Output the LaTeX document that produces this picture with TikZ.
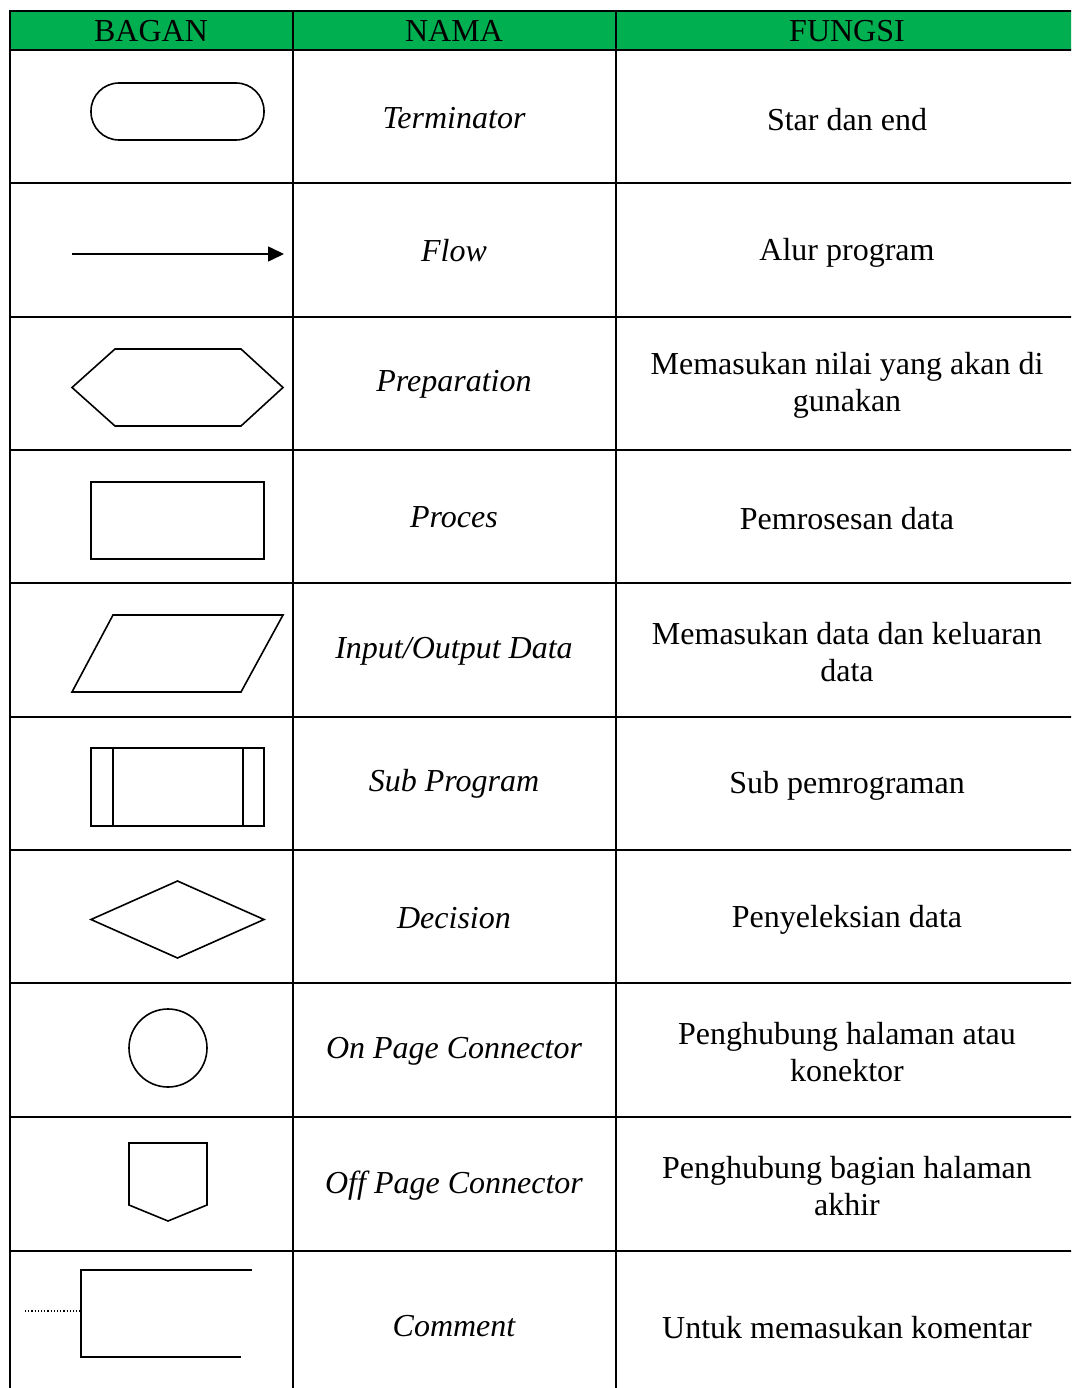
\documentclass[tikz,border=0pt]{standalone}
\usepackage{fontspec}
\setmainfont{Liberation Serif}
\usetikzlibrary{arrows.meta}
\definecolor{hdr}{HTML}{00B050}
\tikzset{
  grid/.style={line width=2pt},
  shp/.style={line width=1.6pt, line join=miter},
  txt/.style={font=\fontsize{32}{37}\selectfont, align=center, inner sep=0pt, yshift=-2.5pt},
  nm/.style={txt, font=\fontsize{32}{37}\selectfont\itshape, yshift=1.5pt},
  hd/.style={font=\fontsize{32}{36}\selectfont, inner sep=0pt}
}
\begin{document}
\begin{tikzpicture}[x=1pt,y=-1pt]
\useasboundingbox (0,0) rectangle (1071,1388);
\begin{scope}
\clip (0,0) rectangle (1071,1388);
% header
\fill[hdr] (10,11) rectangle (1080,50);
\draw[line width=2.6pt] (10,11) -- (1080,11);
\draw[line width=2.8pt] (10,50) -- (1080,50);
% grid
\draw[line width=2.6pt] (10,10) -- (10,1400);
\draw[grid] (293,10) -- (293,1400);
\draw[grid] (616,10) -- (616,1400);
\foreach \y in {183.3,316.6,450,583.3,716.6,850,983.3,1116.7,1250.5}
  \draw[grid] (10,\y) -- (1080,\y);
\end{scope}
% header texts
\node[hd] (h1) at (151,31) {BAGAN};
\node[hd] (h2) at (454,31) {NAMA};
\node[hd] (h3) at (847,31) {FUNGSI};
% names
\node[nm] (n1) at (454,117) {Terminator};
\node[nm] (n2) at (454,250) {Flow};
\node[nm] (n3) at (454,383) {Preparation};
\node[nm] (n4) at (454,516) {Proces};
\node[nm] (n5) at (454,650) {Input/Output Data};
\node[nm] (n6) at (454,783) {Sub Program};
\node[nm] (n7) at (454,917) {Decision};
\node[nm] (n8) at (454,1050) {On Page Connector};
\node[nm] (n9) at (454,1185) {Off Page Connector};
\node[nm] (n10) at (454,1325) {Comment};
% functions
\node[txt] (f1) at (847,117) {Star dan end};
\node[txt] (f2) at (847,250) {Alur program};
\node[txt] (f3) at (847,383) {Memasukan nilai yang akan di\\gunakan};
\node[txt] (f4) at (847,516) {Pemrosesan data};
\node[txt] (f5) at (847,650) {Memasukan data dan keluaran\\data};
\node[txt] (f6) at (847,783) {Sub pemrograman};
\node[txt] (f7) at (847,917) {Penyeleksian data};
\node[txt] (f8) at (847,1050) {Penghubung halaman atau\\konektor};
\node[txt] (f9) at (847,1184) {Penghubung bagian halaman\\akhir};
\node[txt] (f10) at (847,1325) {Untuk memasukan komentar};
% symbols
\draw[shp, rounded corners=28pt] (91,83) rectangle (264,140);
\coordinate (a1) at (72,254);
\coordinate (a2) at (284,254);
\draw[line width=1.6pt, -{Triangle[length=16pt,width=15pt]}] (a1) -- (a2);
\draw[shp] (72,387.5) -- (115,349) -- (241,349) -- (283,387.5) -- (241,426) -- (115,426) -- cycle;
\draw[shp] (91,482) rectangle (264,559);
\draw[shp] (72,692) -- (113,615) -- (283,615) -- (241,692) -- cycle;
\draw[shp] (91,748) rectangle (264,826);
\draw[shp] (113,748) -- (113,826);
\draw[shp] (243,748) -- (243,826);
\draw[shp] (91,919.5) -- (177.5,881) -- (264,919.5) -- (177.5,958) -- cycle;
\draw[shp] (168,1048) circle (39);
\draw[shp] (129,1143) -- (207,1143) -- (207,1205) -- (168,1221) -- (129,1205) -- cycle;
\coordinate (c0) at (25,1311);
\coordinate (c1) at (81,1311);
\draw[line width=1.2pt, dotted] (c0) -- (c1);
\draw[shp] (252,1270) -- (81,1270) -- (81,1357) -- (241,1357);
\end{tikzpicture}
\end{document}
